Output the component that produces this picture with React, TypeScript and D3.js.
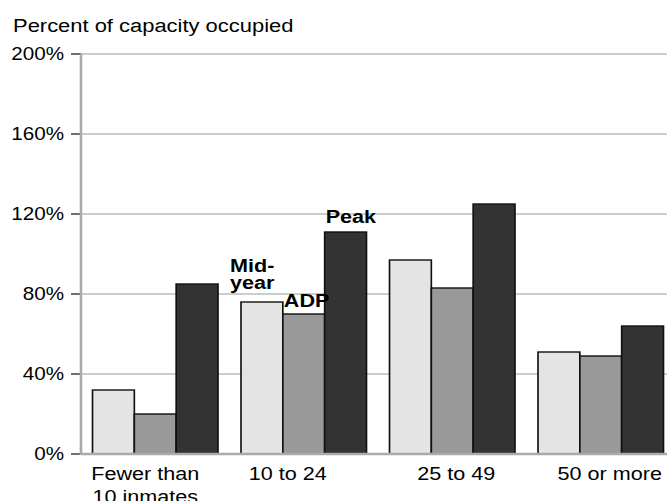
import React from "react";
import * as d3 from "d3";

const categories = ["Fewer than\n10 inmates", "10 to 24", "25 to 49", "50 or more"];
const series = ["Mid-year", "ADP", "Peak"];
const midYear = [32, 76, 97, 51];
const adp = [20, 70, 83, 49];
const peak = [85, 111, 125, 64];
const yTicks = [0, 40, 80, 120, 160, 200];

const colors = ["#e4e4e4", "#999999", "#333333"];
// small nudges so category labels sit where the original put them
const labelDx = [-10, -16, 4, 9];

// the original is stretched horizontally, so draw in a narrower viewBox
const SX = 1.18;
const W = 667 / SX;
const H = 501;
const font = "'Liberation Sans', Arial, sans-serif";

export default function App() {
  const values = [midYear, adp, peak];

  const x0 = d3
    .scaleBand()
    .domain(categories)
    .range([81 / SX, 675 / SX])
    .paddingInner(0.155)
    .paddingOuter(0.0775);

  const x1 = d3.scaleBand().domain(series).range([0, x0.bandwidth()]);

  const y = d3.scaleLinear().domain([0, 200]).range([454, 54]);

  const left = 81 / SX;

  return (
    <svg
      width={667}
      height={H}
      viewBox={`0 0 ${W} ${H}`}
      preserveAspectRatio="none"
      style={{ position: "absolute", left: 0, top: 0, display: "block", background: "#fff" }}
      fontFamily={font}
    >
      <text x={13 / SX} y={32} fontSize={18.6} fill="#000">
        Percent of capacity occupied
      </text>

      {/* grid */}
      {yTicks.map((t) => (
        <g key={t}>
          {t > 0 && (
            <line x1={left} x2={W} y1={y(t)} y2={y(t)} stroke="#bbbbbb" strokeWidth={1.3} />
          )}
          <line x1={71 / SX} x2={left} y1={y(t)} y2={y(t)} stroke="#222" strokeWidth={1.3} />
          <text x={64 / SX} y={y(t) + 6} fontSize={17.5} textAnchor="end" fill="#000">
            {t}%
          </text>
        </g>
      ))}

      {/* bars */}
      {categories.map((c, ci) => (
        <g key={c} transform={`translate(${x0(c)},0)`}>
          {series.map((s, si) => (
            <rect
              key={s}
              x={x1(s)}
              y={y(values[si][ci])}
              width={x1.bandwidth()}
              height={y(0) - y(values[si][ci])}
              fill={colors[si]}
              stroke="#111"
              strokeWidth={1.4}
            />
          ))}
        </g>
      ))}

      {/* axes */}
      <line x1={left} x2={left} y1={y(200)} y2={y(0) + 1} stroke="#aaaaaa" strokeWidth={2.2} />
      <line x1={left} x2={W} y1={y(0)} y2={y(0)} stroke="#aaaaaa" strokeWidth={2.4} />

      {/* category labels */}
      {categories.map((c, ci) => {
        const cx = (x0(c) ?? 0) + x0.bandwidth() / 2 + labelDx[ci] / SX;
        return (
          <text key={c} x={cx} y={480} fontSize={18.3} textAnchor="middle" fill="#000">
            {c.split("\n").map((line, li) => (
              <tspan key={li} x={cx} dy={li === 0 ? 0 : 23}>
                {line}
              </tspan>
            ))}
          </text>
        );
      })}

      {/* series labels in the 10 to 24 group */}
      {(() => {
        const g = x0(categories[1]) ?? 0;
        const bx = (s: string) => g + (x1(s) ?? 0);
        return (
          <g fontSize={18.3} fontWeight="bold" fill="#000">
            <text x={bx("Mid-year") - 11 / SX} y={y(midYear[1]) - 30}>
              <tspan x={bx("Mid-year") - 11 / SX}>Mid-</tspan>
              <tspan x={bx("Mid-year") - 11 / SX} dy={17}>year</tspan>
            </text>
            <text x={bx("ADP") + 1 / SX} y={y(adp[1]) - 7}>ADP</text>
            <text x={bx("Peak") + 1 / SX} y={y(peak[1]) - 9}>Peak</text>
          </g>
        );
      })()}
    </svg>
  );
}
